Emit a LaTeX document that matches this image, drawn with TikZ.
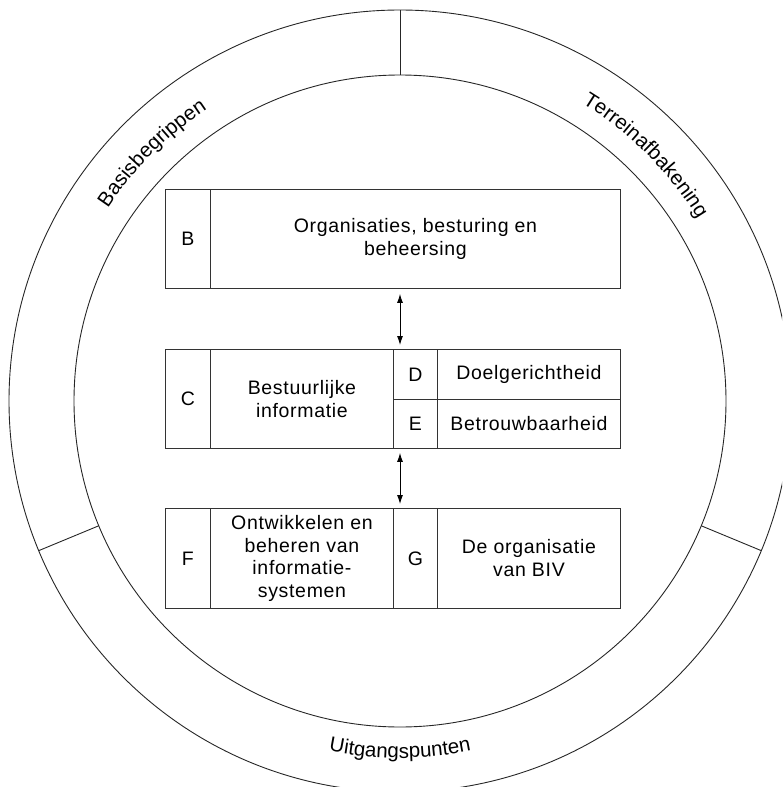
\documentclass[tikz,border=0pt]{standalone}
\usepackage{fontspec}
\newfontfamily\lab[LetterSpace=3.5]{Liberation Sans}
\newfontfamily\arclab{Liberation Sans}
\usetikzlibrary{arrows.meta,calc,decorations.text}

\begin{document}
\begin{tikzpicture}[x=1pt,y=-1pt,
  ring/.style={line width=0.9pt, draw=black!85},
  cell/.style={draw=black!80, line width=0.9pt, inner sep=0pt, anchor=north west,
    align=center, font=\lab\fontsize{19.5}{23}\selectfont},
  link/.style={{Latex[length=9pt,width=6pt]}-{Latex[length=9pt,width=6pt]}, line width=0.9pt},
  arclabel/.style={decorate, decoration={text along path, text align=center,
    text={|\arclab\fontsize{20.5}{24}\selectfont|#1}}}
]
\useasboundingbox (0,0) rectangle (782,787);
\clip (0,0) rectangle (782,787);
\coordinate (ctr) at (400,401);

% the two rings and the three sector dividers
\draw[ring] (ctr) circle[radius=391pt];
\draw[ring] (ctr) circle[radius=326pt];
\draw[ring] ($(ctr)+(90:326pt)$) -- ($(ctr)+(90:391pt)$);
\draw[ring] ($(ctr)+(202.5:326pt)$) -- ($(ctr)+(202.5:391pt)$);
\draw[ring] ($(ctr)+(-22.5:326pt)$) -- ($(ctr)+(-22.5:391pt)$);

% sector names set along the ring
\path[arclabel=Basisbegrippen] ($(ctr)+(165:350pt)$) arc[start angle=165, end angle=105, radius=350pt];
\path[arclabel=Terreinafbakening] ($(ctr)+(80:349pt)$) arc[start angle=80, end angle=10, radius=349pt];
\path[arclabel=Uitgangspunten] ($(ctr)+(245:357pt)$) arc[start angle=245, end angle=295, radius=357pt];

% first row
\node[cell, minimum width=45pt, minimum height=99pt] (b) at (165,189) {B};
\node[cell, minimum width=410pt, minimum height=99pt] (bmain) at (210,189) {Organisaties, besturing en\\beheersing};

% second row
\node[cell, minimum width=45pt, minimum height=99pt] (c) at (165,349) {C};
\node[cell, minimum width=183pt, minimum height=99pt] (cmain) at (210,349) {Bestuurlijke\\informatie};
\node[cell, minimum width=44pt, minimum height=50pt] (d) at (393,349) {D};
\node[cell, minimum width=183pt, minimum height=50pt] (dmain) at (437,349) {Doelgerichtheid};
\node[cell, minimum width=44pt, minimum height=49pt] (e) at (393,399) {E};
\node[cell, minimum width=183pt, minimum height=49pt] (emain) at (437,399) {Betrouwbaarheid};

% third row
\node[cell, minimum width=45pt, minimum height=100pt] (f) at (165,508) {F};
\node[cell, minimum width=183pt, minimum height=100pt, font=\lab\fontsize{19.5}{22.5}\selectfont] (fmain) at (210,508) {Ontwikkelen en\\beheren van\\informatie-\\systemen};
\node[cell, minimum width=44pt, minimum height=100pt] (g) at (393,508) {G};
\node[cell, minimum width=183pt, minimum height=100pt] (gmain) at (437,508) {De organisatie\\van BIV};

% links between the rows
\draw[link] ([yshift=-5pt]bmain.south -| ctr) -- ([yshift=4pt]cmain.north -| ctr);
\draw[link] ([yshift=-4pt]cmain.south -| ctr) -- ([yshift=4pt]fmain.north -| ctr);
\end{tikzpicture}
\end{document}
